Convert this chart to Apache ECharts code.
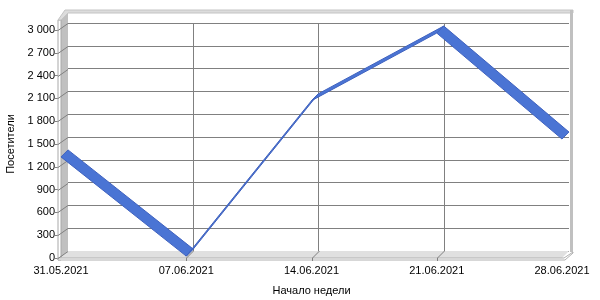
<!DOCTYPE html>
<html>
<head>
<meta charset="utf-8">
<script src="https://cdn.jsdelivr.net/npm/echarts@6/dist/echarts.min.js"></script>
<style>
html,body{margin:0;padding:0;background:#fff;}
#chart{width:600px;height:300px;}
</style>
</head>
<body>
<div id="chart"></div>
<script>
// ---- data ----
const categories = ['31.05.2021', '07.06.2021', '14.06.2021', '21.06.2021', '28.06.2021'];
const visitors = [1330, 25, 2070, 2960, 1565];
const yTickValues = [0, 300, 600, 900, 1200, 1500, 1800, 2100, 2400, 2700, 3000];
const yMax = 3000;
const yInterval = 300;
const xAxisTitle = 'Начало недели';
const yAxisTitle = 'Посетители';

// ---- layout (front plane and 3D depth) ----
const W = 600, H = 300;
const FL = 61, FR = 562, FT = 30, FB = 258;   // front plane
const DX = 7, DY = 7;                          // depth offset
const BL = FL + DX, BR = FR + DX, BT = FT - DY, BB = FB - DY; // back wall
const EXTRA = 10;                              // wall height above max
const FONT = 'Liberation Sans';

function fmt(v) {
  const s = String(v);
  return s.length > 3 ? s.slice(0, s.length - 3) + ' ' + s.slice(s.length - 3) : s;
}

const yPix = v => FB - (v / yMax) * (FB - FT);
const xPix = i => FL + i * (FR - FL) / (categories.length - 1);

const graphics = [];
// left wall
graphics.push({type: 'polygon', z: 1, shape: {points: [[FL, FB], [FL, FT - EXTRA], [BL, BT - EXTRA], [BL, BB]]}, style: {fill: '#c0c0c0'}});
// left wall front face
graphics.push({type: 'rect', z: 1, shape: {x: 58, y: FT - EXTRA, width: FL - 58, height: FB + 2 - (FT - EXTRA)}, style: {fill: '#ffffff', stroke: '#a8a8a8', lineWidth: 1}});
// top band
graphics.push({type: 'polygon', z: 1, shape: {points: [[58, FT - EXTRA], [FL, FT - EXTRA], [BL, BT - EXTRA], [BR + 4, BT - EXTRA], [BR + 4, BT - EXTRA - 3], [BL - 3, BT - EXTRA - 3]]}, style: {fill: '#dcdcdc', stroke: '#c4c4c4', lineWidth: 1}});
// right wall edge
graphics.push({type: 'rect', z: 1, shape: {x: BR + 1, y: BT - EXTRA - 3, width: 3, height: BB + 1 - (BT - EXTRA - 3)}, style: {fill: '#c0c0c0'}});
// floor
graphics.push({type: 'polygon', z: 1, shape: {points: [[FL, FB], [FR, FB], [BR, BB], [BL, BB]]}, style: {fill: '#e0e0e0'}});
// floor front face
graphics.push({type: 'polygon', z: 1, shape: {points: [[58, FB], [FR + 2, FB], [BR + 4, BB + 1], [BR + 4, BB + 2], [FR + 3, FB + 2], [58, FB + 2]]}, style: {fill: '#ffffff', stroke: '#b0b0b0', lineWidth: 1}});
// y tick diagonals across left wall
yTickValues.forEach(v => {
  const y = Math.round(yPix(v)) + 0.5;
  graphics.push({type: 'line', z: 2, shape: {x1: 58, y1: y, x2: BL, y2: y - DY}, style: {stroke: '#808080', lineWidth: 1}});
});
// x tick diagonals across floor
categories.forEach((c, i) => {
  if (i === 0 || i === categories.length - 1) return;
  const x = Math.round(xPix(i)) + 0.5;
  graphics.push({type: 'line', z: 2, shape: {x1: x + DX, y1: BB, x2: x, y2: FB}, style: {stroke: '#808080', lineWidth: 1}});
  graphics.push({type: 'line', z: 2, shape: {x1: x, y1: FB, x2: x, y2: FB + 3}, style: {stroke: '#808080', lineWidth: 1}});
});

const chart = echarts.init(document.getElementById('chart'), null, {renderer: 'canvas'});
chart.setOption({
  animation: false,
  backgroundColor: '#ffffff',
  textStyle: {fontFamily: FONT},
  grid: [
    {left: BL, right: W - BR, top: BT, bottom: H - BB, containLabel: false, outerBoundsMode: 'none'},
    {left: FL, right: W - FR, top: FT, bottom: H - FB, containLabel: false, outerBoundsMode: 'none'}
  ],
  xAxis: [
    {
      gridIndex: 0, type: 'category', data: categories, boundaryGap: false,
      axisLine: {show: false}, axisTick: {show: false}, axisLabel: {show: false},
      splitLine: {show: true, interval: (idx) => idx > 0 && idx < categories.length - 1, lineStyle: {color: '#808080', width: 1}}
    },
    {
      gridIndex: 1, type: 'category', data: categories, boundaryGap: false,
      axisLine: {show: false}, axisTick: {show: false},
      axisLabel: {color: '#000', fontSize: 11, fontFamily: FONT, margin: 7},
      splitLine: {show: false},
      name: xAxisTitle, nameLocation: 'middle', nameGap: 27,
      nameTextStyle: {color: '#000', fontSize: 11, fontFamily: FONT}
    }
  ],
  yAxis: [
    {
      gridIndex: 0, type: 'value', min: 0, max: yMax, interval: yInterval,
      axisLine: {show: false}, axisTick: {show: false}, axisLabel: {show: false},
      splitLine: {show: true, lineStyle: {color: '#808080', width: 1}}
    },
    {
      gridIndex: 1, type: 'value', min: 0, max: yMax, interval: yInterval, offset: 3,
      axisLine: {show: false},
      axisTick: {show: true, length: 3, lineStyle: {color: '#808080'}},
      axisLabel: {color: '#000', fontSize: 11, fontFamily: FONT, margin: 3, formatter: v => fmt(v)},
      splitLine: {show: false},
      name: yAxisTitle, nameLocation: 'middle', nameGap: 41,
      nameTextStyle: {color: '#000', fontSize: 11, fontFamily: FONT}
    }
  ],
  graphic: {elements: graphics},
  series: [{
    type: 'custom',
    xAxisIndex: 1, yAxisIndex: 1,
    z: 5,
    clip: false,
    data: visitors.map((v, i) => [i, v]),
    encode: {x: 0, y: 1},
    renderItem: function (params, api) {
      const i = params.dataIndex;
      if (i >= visitors.length - 1) return null;
      const p1 = api.coord([i, visitors[i]]);
      const p2 = api.coord([i + 1, visitors[i + 1]]);
      return {
        type: 'polygon',
        shape: {points: [p1, p2, [p2[0] + DX, p2[1] - DY], [p1[0] + DX, p1[1] - DY]]},
        style: {fill: '#4a74d4', stroke: '#3f62bf', lineWidth: 1}
      };
    }
  }]
});
</script>
</body>
</html>
